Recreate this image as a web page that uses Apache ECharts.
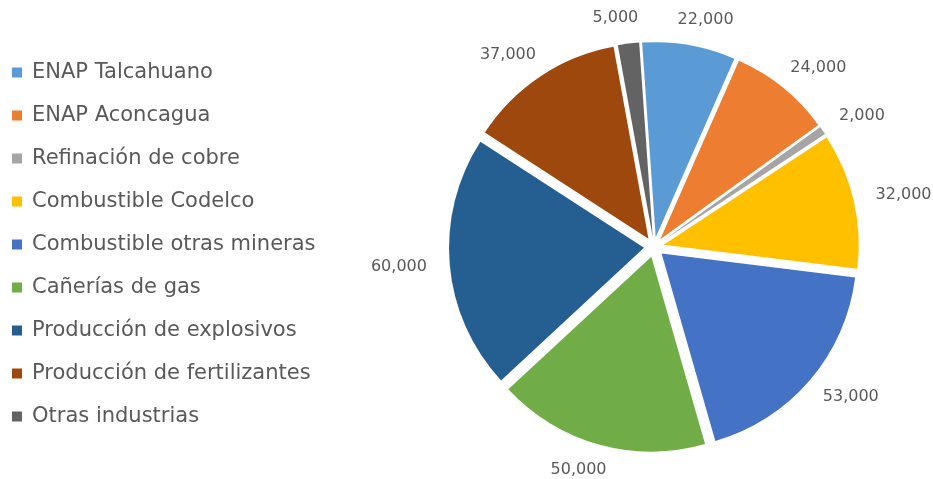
<!DOCTYPE html>
<html>
<head>
<meta charset="utf-8">
<script src="https://cdn.jsdelivr.net/npm/echarts@6/dist/echarts.min.js"></script>
<style>
  html, body { margin: 0; padding: 0; background: #fff; }
  #chart { width: 933px; height: 479px; }
</style>
</head>
<body>
<div id="chart"></div>
<script>
  var categories = ['ENAP Talcahuano', 'ENAP Aconcagua', 'Refinación de cobre', 'Combustible Codelco',
    'Combustible otras mineras', 'Cañerías de gas', 'Producción de explosivos',
    'Producción de fertilizantes', 'Otras industrias'];
  var values = [22000, 24000, 2000, 32000, 53000, 50000, 60000, 37000, 5000];
  var colors = ['#5B9BD5', '#ED7D31', '#A5A5A5', '#FFC000', '#4472C4', '#70AD47', '#255E91', '#9E480E', '#636363'];

  var START_ANGLE = 94;

  // mid angle of every slice, degrees clockwise from 12 o'clock (used to center labels like Excel)
  var total = values.reduce(function (a, b) { return a + b; }, 0);
  var midAngles = [];
  var cum = 0;
  values.forEach(function (v) {
    midAngles.push((90 - START_ANGLE) + (cum + v / 2) / total * 360);
    cum += v;
  });

  var chart = echarts.init(document.getElementById('chart'));

  var pieData = categories.map(function (name, i) {
    return { name: name, value: values[i], selected: true, itemStyle: { color: colors[i] } };
  });

  chart.setOption({
    animation: false,
    legend: {
      orient: 'vertical',
      left: 7,
      top: 57,
      itemWidth: 10,
      itemHeight: 10,
      itemGap: 22,
      icon: 'rect',
      selectedMode: false,
      textStyle: {
        fontFamily: 'DejaVu Sans',
        fontSize: 21,
        color: '#595959',
        padding: [0, 0, 0, 5]
      },
      data: categories
    },
    series: [{
      type: 'pie',
      center: [654, 247],
      radius: 195,
      startAngle: START_ANGLE,
      clockwise: true,
      selectedMode: 'multiple',
      selectedOffset: 10,
      avoidLabelOverlap: false,
      emphasis: { disabled: true },
      label: {
        show: true,
        position: 'outside',
        fontFamily: 'DejaVu Sans',
        fontSize: 16,
        color: '#595959',
        formatter: function (p) { return p.value.toLocaleString('en-US'); }
      },
      labelLine: { show: false, length: 18, length2: 0 },
      labelLayout: function (params) {
        var t = midAngles[params.dataIndex] * Math.PI / 180;
        var s = Math.sin(t), c = Math.cos(t);
        var w = params.labelRect.width, h = params.labelRect.height;
        return {
          dx: -Math.sign(s) * 0.85 * w / 2 * (1 - Math.abs(s)),
          dy: -h / 2 * c
        };
      },
      data: pieData
    }]
  });
</script>
</body>
</html>
